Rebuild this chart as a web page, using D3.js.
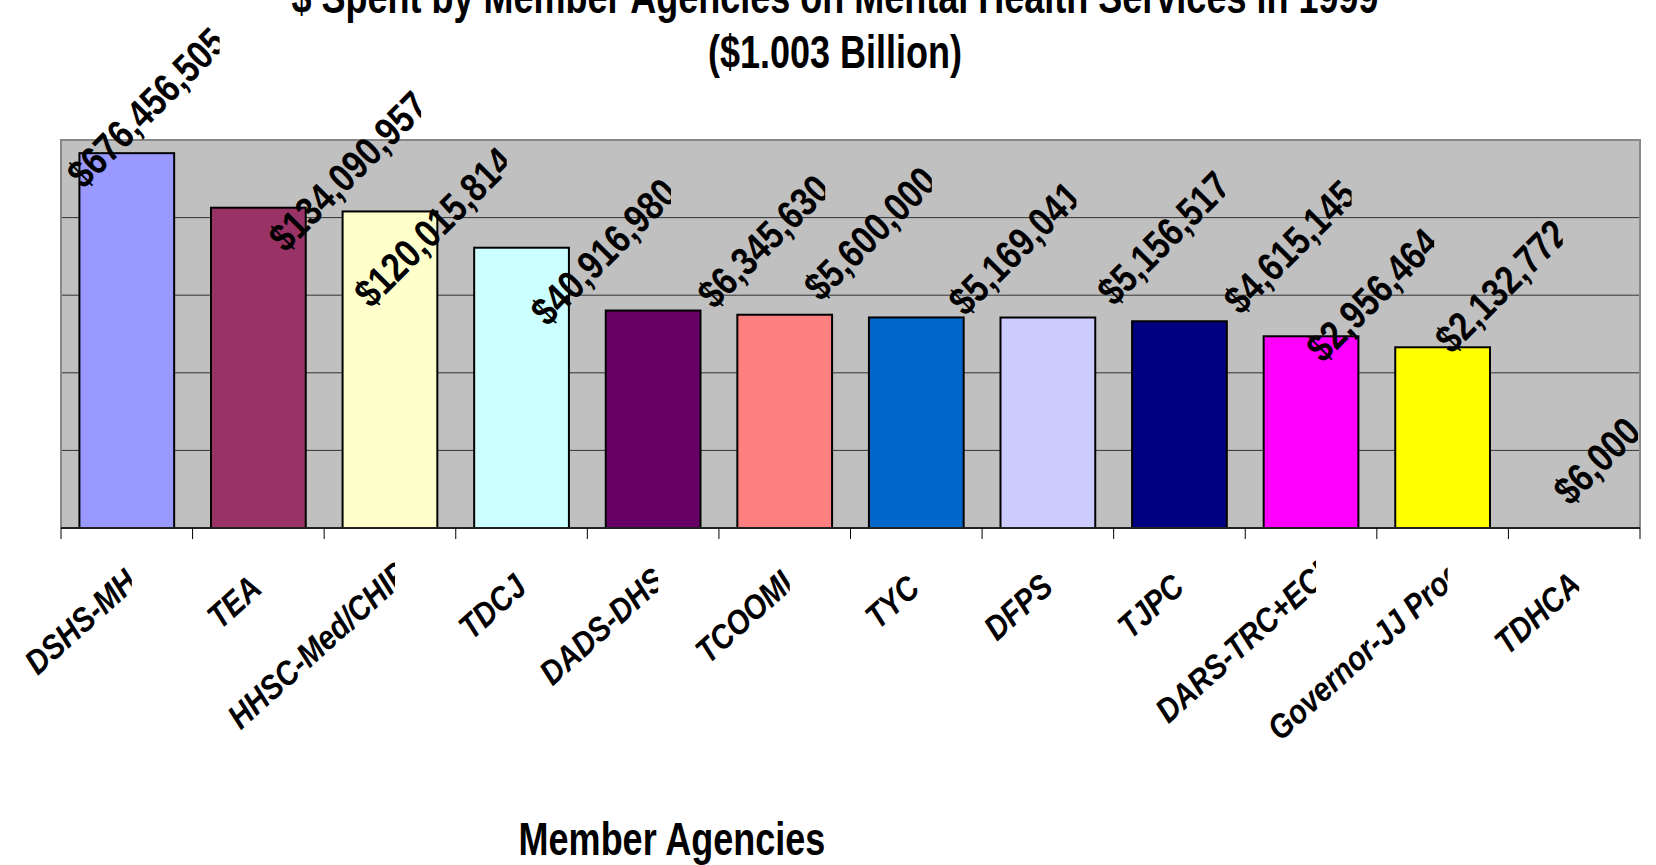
<!DOCTYPE html>
<html>
<head>
<meta charset="utf-8">
<script src="https://cdn.jsdelivr.net/npm/d3@7"></script>
<style>
  body { margin: 0; background: #fff; }
  text { font-family: "Liberation Sans", Arial, sans-serif; }
</style>
</head>
<body>
<div id="chart"></div>
<script>
// agencies and what each spent (log scale chart)
const categories = ["DSHS-MH", "TEA", "HHSC-Med/CHIP", "TDCJ", "DADS-DHS", "TCOOMI",
  "TYC", "DFPS", "TJPC", "DARS-TRC+ECI", "Governor-JJ Prog", "TDHCA"];
const spending = [676456505, 134090957, 120015814, 40916980, 6345630, 5600000,
  5169041, 5156517, 4615145, 2956464, 2132772, 6000];
const barColors = ["#9999FF", "#993366", "#FFFFCC", "#CCFFFF", "#660066", "#FF8080",
  "#0066CC", "#CCCCFF", "#000080", "#FF00FF", "#FFFF00", "#00FFFF"];
const titleLines = ["$ Spent by Member Agencies on Mental Health Services in 1999", "($1.003 Billion)"];
const xTitle = "Member Agencies";

// excel placed the rotated value labels rather loosely, offsets from bar top
const labelNudge = [[-43, 37], [27, 46], [-19, 98], [26, 80], [61, 0], [36, -12],
  [49, 0], [66, -10], [61, -5], [12, 28], [9, 8], [-4, -21]];

const W = 1656, H = 865;
const plot = { left: 61, right: 1640, top: 140, bottom: 528 };
const stretch = 1.3;     // the font is a narrow one: taller than wide
const narrow = 0.84;
const valueAngle = -45, catAngle = -42;

const svg = d3.select("#chart").append("svg")
  .attr("width", W).attr("height", H);
const defs = svg.append("defs");

const x = d3.scaleBand()
  .domain(categories)
  .range([plot.left, plot.right])
  .paddingInner(0.28)
  .paddingOuter(0.14);

const y = d3.scaleLog()
  .domain([1e4, 1e9])
  .range([plot.bottom, plot.top]);

// plot background
svg.append("rect")
  .attr("x", plot.left).attr("y", plot.top)
  .attr("width", plot.right - plot.left).attr("height", plot.bottom - plot.top)
  .style("fill", "#C0C0C0");

// gridlines on each decade
const decades = y.ticks().filter(t => Math.abs(Math.log10(t) - Math.round(Math.log10(t))) < 1e-9);
svg.selectAll("line.grid")
  .data(decades.filter(t => t > 1e4 && t < 1e9))
  .enter().append("line")
  .attr("class", "grid")
  .attr("x1", plot.left).attr("x2", plot.right)
  .attr("y1", d => y(d)).attr("y2", d => y(d))
  .style("stroke", "#333").style("stroke-width", 1);

// plot border
svg.append("path")
  .attr("d", `M${plot.left},${plot.bottom}V${plot.top}H${plot.right}V${plot.bottom}`)
  .style("fill", "none").style("stroke", "#888").style("stroke-width", 2);

// bars
const rows = categories.map((c, i) => ({ cat: c, value: spending[i], color: barColors[i], nudge: labelNudge[i] }));
svg.selectAll("rect.bar")
  .data(rows.filter(d => d.value > y.domain()[0]))
  .enter().append("rect")
  .attr("class", "bar")
  .attr("x", d => x(d.cat))
  .attr("y", d => y(d.value))
  .attr("width", x.bandwidth())
  .attr("height", d => plot.bottom - y(d.value))
  .style("fill", d => d.color)
  .style("stroke", "#000").style("stroke-width", 2);

// x axis line and ticks on the category boundaries
svg.append("line")
  .attr("x1", plot.left).attr("x2", plot.right)
  .attr("y1", plot.bottom).attr("y2", plot.bottom)
  .style("stroke", "#222").style("stroke-width", 2);
const step = x.step();
const bounds = categories.map(c => x(c) - step * x.paddingInner() / 2).concat([plot.right]);
svg.selectAll("line.tick")
  .data(bounds)
  .enter().append("line")
  .attr("class", "tick")
  .attr("x1", d => d).attr("x2", d => d)
  .attr("y1", plot.bottom).attr("y2", plot.bottom + 11)
  .style("stroke", "#000").style("stroke-width", 1);

// value labels, rotated and clipped where excel cut them off
const fmt = d3.format("$,");
const vcos = Math.cos(valueAngle * Math.PI / 180);
rows.forEach((d, i) => {
  const cx = x(d.cat) + x.bandwidth() / 2;
  const sx = cx + d.nudge[0];
  const sy = Math.min(y(Math.max(d.value, y.domain()[0])), plot.bottom) + d.nudge[1];
  const g = svg.append("g");
  const t = g.append("text")
    .attr("transform", `translate(${sx},${sy}) rotate(${valueAngle}) scale(${narrow},1)`)
    .style("font-size", "40px").style("font-weight", "bold")
    .text(fmt(d.value));
  const len = t.node().getComputedTextLength() * narrow;
  const clipX = sx + vcos * len / 1.07;
  defs.append("clipPath").attr("id", "vclip" + i)
    .append("rect").attr("x", 0).attr("y", 0).attr("width", clipX).attr("height", H);
  g.attr("clip-path", `url(#vclip${i})`);
});

// category labels, ending at the middle of each band
const crad = catAngle * Math.PI / 180;
const ux = Math.cos(crad), uy = Math.sin(crad);
rows.forEach((d, i) => {
  const cx = x(d.cat) + x.bandwidth() / 2;
  const ey = 596;
  const g = svg.append("g");
  const t = g.append("text")
    .style("font-size", "34px").style("font-weight", "bold").style("font-style", "italic")
    .text(d.cat);
  const len = t.node().getComputedTextLength() * 0.86;
  const shown = len / 1.14;
  const sx = cx - ux * shown, sy = ey - uy * shown;
  t.attr("transform", `translate(${sx},${sy}) rotate(${catAngle}) scale(0.86,1)`);
  defs.append("clipPath").attr("id", "cclip" + i)
    .append("rect").attr("x", 0).attr("y", 0).attr("width", cx + 5).attr("height", H);
  g.attr("clip-path", `url(#cclip${i})`);
});

// titles
svg.append("text")
  .attr("transform", `translate(835,13) scale(1,${stretch})`)
  .attr("text-anchor", "middle")
  .style("font-size", "36px").style("font-weight", "bold")
  .text(titleLines[0]);
svg.append("text")
  .attr("transform", `translate(835,68) scale(1,${stretch})`)
  .attr("text-anchor", "middle")
  .style("font-size", "36px").style("font-weight", "bold")
  .text(titleLines[1]);

svg.append("text")
  .attr("transform", `translate(672,855) scale(1,${stretch})`)
  .attr("text-anchor", "middle")
  .style("font-size", "36px").style("font-weight", "bold")
  .text(xTitle);
</script>
</body>
</html>
